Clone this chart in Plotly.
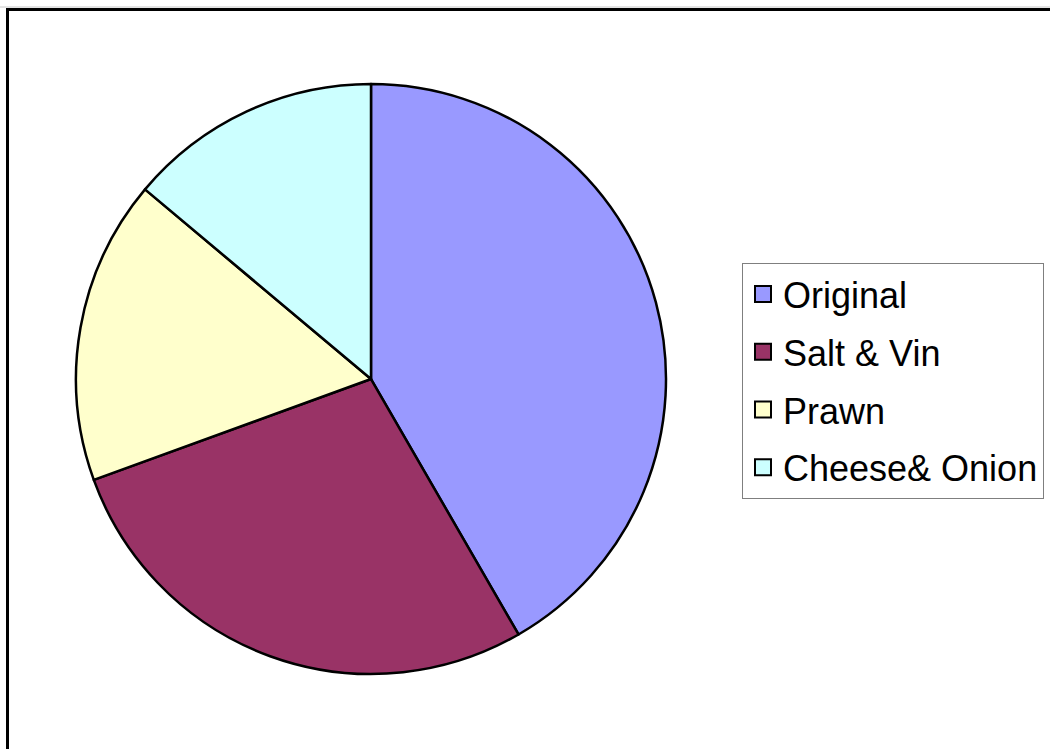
import plotly.graph_objects as go

categories = ["Original", "Salt & Vin", "Prawn", "Cheese& Onion"]
values = [30, 20, 12, 10]
colors = ["#9999FF", "#993366", "#FFFFCC", "#CCFFFF"]

W, H = 1050, 749

fig = go.Figure()
fig.add_trace(go.Pie(
    labels=categories, values=values, sort=False, direction="clockwise", rotation=0,
    marker=dict(colors=colors, line=dict(color="black", width=2.5)),
    textinfo="none", showlegend=False,
    domain=dict(x=[76 / W, 666 / W], y=[75 / H, 665 / H]),
))

# legend entries, one group each so the spacing can match the reference
for i, (cat, col) in enumerate(zip(categories, colors)):
    fig.add_trace(go.Scatter(
        x=[None], y=[None], mode="markers", name=cat, legendgroup=f"g{i}",
        marker=dict(symbol="square", size=16, color=col, line=dict(color="black", width=2)),
        hoverinfo="skip",
    ))

fig.update_layout(
    width=W, height=H, autosize=False,
    margin=dict(l=0, r=0, t=0, b=0),
    paper_bgcolor="white", plot_bgcolor="white",
    xaxis=dict(visible=False), yaxis=dict(visible=False),
    font=dict(family="Liberation Sans, Arial, sans-serif", color="black"),
    legend=dict(
        x=742 / W, xanchor="left", y=1 - 263 / H, yanchor="top",
        bordercolor="#7f7f7f", borderwidth=1, bgcolor="white",
        font=dict(size=36, family="Liberation Sans, Arial, sans-serif", color="black"),
        tracegroupgap=8, itemsizing="trace",
    ),
    shapes=[
        dict(type="line", xref="paper", yref="paper", x0=0, x1=1, y0=1 - 7 / H, y1=1 - 7 / H,
             line=dict(color="#c8c8c8", width=1)),
        dict(type="rect", xref="paper", yref="paper", x0=7.5 / W, x1=1.02, y0=-0.02, y1=1 - 9.5 / H,
             line=dict(color="black", width=3), fillcolor="rgba(0,0,0,0)"),
    ],
)

fig.write_html(
    "out.html",
    config={"displayModeBar": False},
    post_script="document.body.style.margin='0px';document.body.style.overflow='hidden';",
)
